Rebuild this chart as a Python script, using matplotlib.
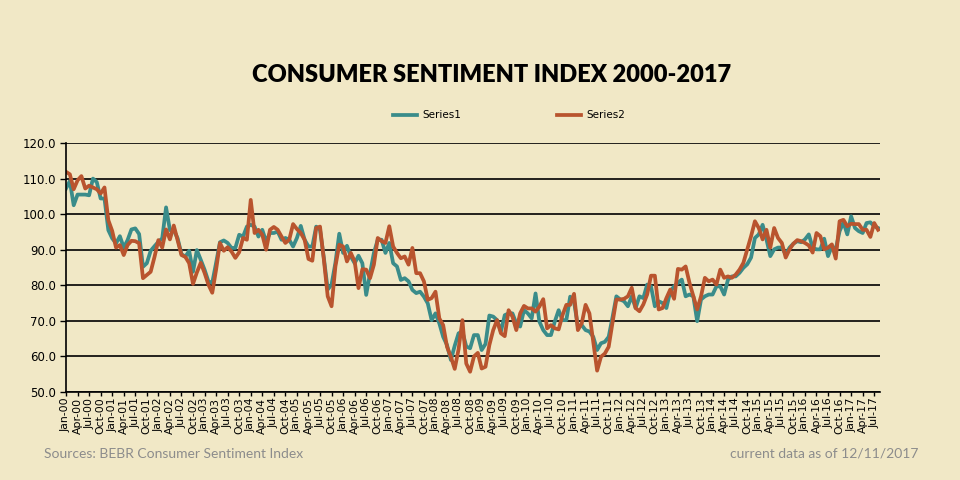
import numpy as np
import pandas as pd
import matplotlib
matplotlib.use("Agg")
from matplotlib import pyplot as plt

# monthly values, Jan-2000 .. Aug-2017
series1 = [
    107.2, 109.3, 102.5, 105.5, 105.5, 105.5, 105.3, 110.0, 109.0, 104.4, 104.4, 95.5,
    93.2, 91.8, 93.8, 90.6, 92.7, 95.7, 96.0, 94.4, 85.2, 86.2, 89.7, 91.0,
    92.2, 93.2, 101.9, 95.5, 95.5, 93.2, 88.8, 88.0, 89.7, 83.8, 89.9, 87.2,
    84.4, 81.1, 80.7, 86.3, 92.1, 92.6, 91.9, 90.5, 90.5, 94.2, 93.7, 96.5,
    97.0, 96.5, 93.7, 95.6, 92.3, 94.7, 94.7, 95.1, 92.8, 93.3, 92.8, 90.9,
    93.3, 96.7, 92.8, 90.9, 90.9, 96.5, 95.6, 87.7, 78.8, 80.2, 86.3, 94.5,
    89.1, 91.1, 88.1, 86.2, 88.3, 86.2, 77.3, 83.4, 89.1, 92.8, 92.8, 89.1,
    91.9, 86.2, 85.3, 81.5, 82.0, 81.1, 78.7, 77.8, 78.2, 76.8, 74.9, 70.2,
    72.1, 69.3, 65.5, 63.2, 59.0, 63.0, 66.5, 67.0, 62.8, 62.3, 66.0, 66.0,
    61.8, 63.5, 71.5, 71.2, 70.2, 67.0, 71.6, 72.1, 72.1, 69.3, 68.4, 73.0,
    72.1, 70.7, 77.7, 69.8, 67.4, 66.0, 66.0, 69.8, 73.0, 70.2, 70.2, 76.8,
    75.4, 68.4, 68.8, 67.4, 67.0, 65.5, 61.8, 63.7, 64.1, 65.5, 71.0, 76.9,
    76.0, 75.5, 74.1, 76.9, 73.6, 76.9, 76.4, 80.2, 79.7, 74.1, 75.5, 75.0,
    73.6, 78.3, 79.7, 80.7, 81.6, 76.9, 77.4, 76.9, 69.9, 76.0, 76.9, 77.4,
    77.4, 79.7, 79.7, 77.4, 81.6, 82.5, 82.5, 83.5, 84.9, 85.9, 87.8, 93.3,
    94.3, 97.0, 92.9, 88.2, 90.1, 90.6, 90.6, 88.7, 90.6, 91.7, 92.4, 92.1,
    92.9, 94.3, 90.6, 90.1, 90.1, 93.1, 88.2, 91.0, 90.1, 95.2, 97.7, 94.3,
    99.4, 96.1, 95.2, 94.7, 97.5, 97.7, 96.6, 96.1,
]
series2 = [
    111.9, 111.2, 107.0, 109.5, 110.7, 107.2, 108.0, 107.5, 107.0, 105.8, 107.5, 98.3,
    95.3, 90.6, 91.3, 88.5, 91.3, 92.5, 92.4, 91.8, 82.0, 82.9, 83.8, 88.0,
    92.7, 90.6, 95.7, 92.9, 96.8, 92.7, 88.5, 88.0, 86.2, 80.4, 83.6, 86.3,
    83.5, 80.2, 77.9, 84.4, 91.9, 89.7, 90.7, 89.5, 87.7, 89.3, 93.3, 92.8,
    104.0, 94.7, 95.6, 94.2, 90.0, 95.6, 96.4, 95.6, 93.7, 91.9, 92.8, 97.2,
    95.8, 94.7, 92.8, 87.4, 86.9, 96.1, 96.5, 87.2, 76.9, 74.1, 85.3, 91.4,
    90.9, 86.7, 89.1, 86.7, 79.2, 84.5, 84.4, 82.0, 85.8, 93.3, 92.4, 91.9,
    96.6, 90.9, 89.1, 87.6, 88.1, 85.8, 90.5, 83.4, 83.4, 81.1, 75.9, 76.4,
    78.2, 70.7, 68.8, 62.7, 59.9, 56.5, 62.0, 70.2, 58.0, 55.7, 60.0, 61.0,
    56.6, 57.1, 63.2, 67.4, 70.2, 66.5, 65.7, 73.0, 71.2, 67.4, 72.1, 74.2,
    73.5, 73.5, 72.6, 74.0, 76.1, 67.9, 68.8, 67.9, 67.6, 71.6, 74.5, 74.5,
    77.6, 67.4, 69.3, 74.5, 72.1, 64.1, 56.0, 59.9, 60.8, 62.7, 69.5, 76.0,
    76.0, 76.2, 76.9, 79.3, 73.6, 72.7, 74.6, 77.4, 82.7, 82.7, 73.2, 73.6,
    76.4, 78.8, 76.2, 84.6, 84.4, 85.3, 80.7, 76.9, 73.2, 76.9, 82.1, 81.1,
    81.6, 80.2, 84.4, 82.1, 82.5, 82.1, 83.0, 84.4, 86.3, 90.1, 93.8, 98.0,
    96.1, 92.9, 95.6, 90.6, 96.1, 93.3, 91.9, 87.8, 90.1, 91.7, 92.7, 92.4,
    91.9, 91.2, 89.2, 94.7, 93.8, 90.1, 90.6, 91.5, 87.5, 98.0, 98.4, 96.6,
    97.3, 97.2, 97.2, 95.6, 95.6, 93.6, 97.5, 95.6,
]
months = pd.date_range("2000-01-01", periods=len(series1), freq="MS")
month_labels = [m.strftime("%b-%y") for m in months]
y_ticks = [50, 60, 70, 80, 90, 100, 110, 120]

bg = "#F1E8C6"
teal = "#3A8C8A"
rust = "#B9542E"

fig = plt.figure(figsize=(9.6, 4.8), dpi=100, facecolor=bg)
ax = fig.add_axes([66 / 960, 1 - 392 / 480, (880 - 66) / 960, (392 - 143) / 480])
ax.set_facecolor(bg)

x = np.arange(len(series1))
ax.plot(x, series1, color=teal, lw=2.7, label="Series1", solid_joinstyle="round")
ax.plot(x, series2, color=rust, lw=2.7, label="Series2", solid_joinstyle="round")

ax.set_xlim(0, len(series1) - 0.5)
ax.set_ylim(50, 120)
ax.set_yticks(y_ticks)
ax.set_yticklabels([f"{v:.1f}" for v in y_ticks], fontsize=8.5)
ax.yaxis.grid(True, color="black", lw=1.2)
ax.set_axisbelow(True)

ax.set_xticks(x[::3])
ax.set_xticklabels(month_labels[::3], rotation=90, fontsize=7.8)
ax.tick_params(axis="x", length=3, width=1, pad=1)
ax.tick_params(axis="y", length=4, width=1, pad=3)

for s in ["top", "right"]:
    ax.spines[s].set_visible(False)
for s in ["left", "bottom"]:
    ax.spines[s].set_color("black")
    ax.spines[s].set_linewidth(1.2)

fig.text(0.512, 0.843, "CONSUMER SENTIMENT INDEX 2000-2017", ha="center", va="center",
         fontsize=17, fontweight="heavy", family="Lato")

leg = fig.legend(loc="center", bbox_to_anchor=(0.53, 0.76), ncol=2, frameon=False,
                 fontsize=7.5, handlelength=2.3, columnspacing=9.2, handletextpad=0.5)

fig.text(44 / 960, 1 - 454 / 480, "Sources: BEBR Consumer Sentiment Index",
         fontsize=10, color="#8C8C8C", va="center", family="Lato")
fig.text(918 / 960, 1 - 454 / 480, "current data as of 12/11/2017",
         fontsize=10, color="#8C8C8C", va="center", ha="right", family="Lato")

fig.savefig("out.png", dpi=100, facecolor=bg)
